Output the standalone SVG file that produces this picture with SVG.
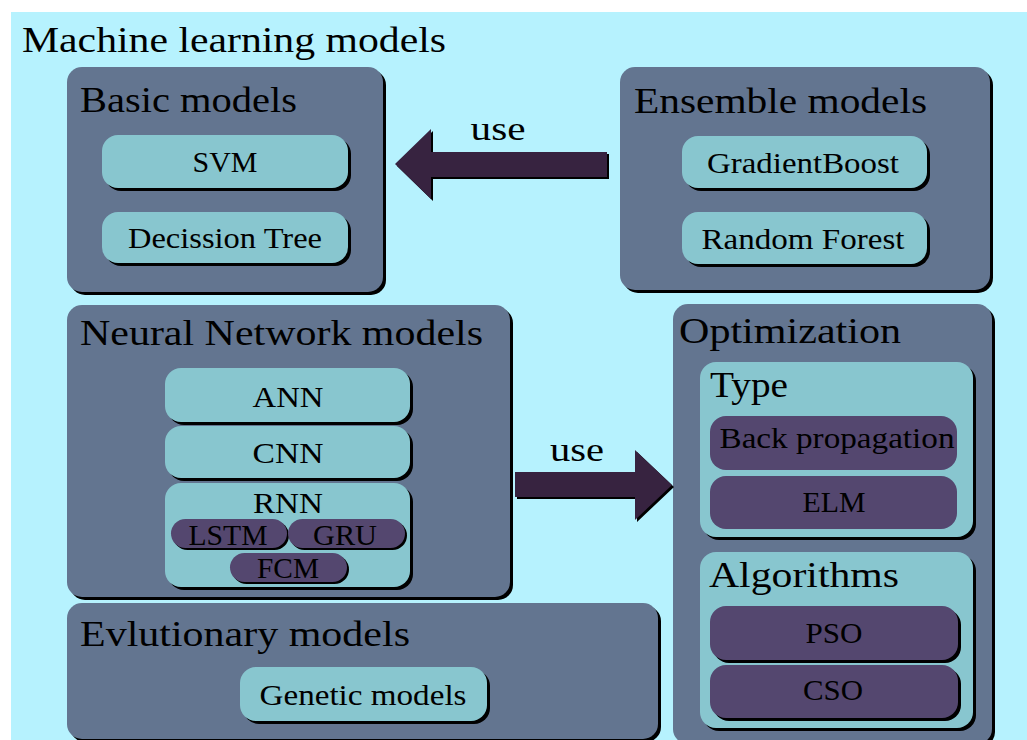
<svg xmlns="http://www.w3.org/2000/svg" width="1027" height="740" viewBox="0 0 1027 740">
<style>
text{font-family:"Liberation Serif","Times New Roman",serif;fill:#000}
.t{font-size:36px}
.l{font-size:29px;text-anchor:middle}
.u{font-size:34px;text-anchor:middle}
.sh{fill:#000}
.box{fill:#637590}
.teal{fill:#88c6cf}
.pur{fill:#54476f}
.arr{fill:#372340}
</style>
<rect x="11" y="12" width="1016" height="728" fill="#b6f2fe"/>
<text class="t" x="22" y="52" textLength="424" lengthAdjust="spacingAndGlyphs">Machine learning models</text>

<g id="basic">
<rect class="sh" x="70" y="70" width="316" height="225" rx="15"/>
<rect class="box" x="67" y="67" width="316" height="225" rx="15"/>
<text class="t" x="80" y="112" textLength="217" lengthAdjust="spacingAndGlyphs">Basic models</text>
<g id="svm"><rect class="sh" x="105" y="138" width="246" height="53" rx="16"/><rect class="teal" x="102" y="135" width="246" height="53" rx="16"/><text class="l" x="225" y="172" textLength="65" lengthAdjust="spacingAndGlyphs">SVM</text></g>
<g id="dtree"><rect class="sh" x="105" y="215" width="246" height="51" rx="16"/><rect class="teal" x="102" y="212" width="246" height="51" rx="16"/><text class="l" x="225" y="248" textLength="194" lengthAdjust="spacingAndGlyphs">Decission Tree</text></g>
</g>

<g id="ensemble">
<rect class="sh" x="623" y="70" width="370" height="223" rx="15"/>
<rect class="box" x="620" y="67" width="370" height="223" rx="15"/>
<text class="t" x="634" y="113" textLength="293" lengthAdjust="spacingAndGlyphs">Ensemble models</text>
<g id="gboost"><rect class="sh" x="685" y="139" width="245" height="52" rx="16"/><rect class="teal" x="682" y="136" width="245" height="52" rx="16"/><text class="l" x="803" y="173" textLength="192" lengthAdjust="spacingAndGlyphs">GradientBoost</text></g>
<g id="rforest"><rect class="sh" x="685" y="215" width="245" height="52" rx="16"/><rect class="teal" x="682" y="212" width="245" height="52" rx="16"/><text class="l" x="803" y="249" textLength="203" lengthAdjust="spacingAndGlyphs">Random Forest</text></g>
</g>

<g id="neural">
<rect class="sh" x="70" y="308" width="443" height="292" rx="15"/>
<rect class="box" x="67" y="305" width="443" height="292" rx="15"/>
<text class="t" x="80" y="345" textLength="403" lengthAdjust="spacingAndGlyphs">Neural Network models</text>
<g id="ann"><rect class="sh" x="168" y="371" width="245" height="54" rx="16"/><rect class="teal" x="165" y="368" width="245" height="54" rx="16"/><text class="l" x="288" y="407" textLength="71" lengthAdjust="spacingAndGlyphs">ANN</text></g>
<g id="cnn"><rect class="sh" x="168" y="429" width="245" height="52" rx="16"/><rect class="teal" x="165" y="426" width="245" height="52" rx="16"/><text class="l" x="288" y="463" textLength="71" lengthAdjust="spacingAndGlyphs">CNN</text></g>
<g id="rnn"><rect class="sh" x="168" y="486" width="245" height="104" rx="16"/><rect class="teal" x="165" y="483" width="245" height="104" rx="16"/><text class="l" x="288" y="513" textLength="70" lengthAdjust="spacingAndGlyphs">RNN</text></g>
<g id="lstm"><rect class="sh" x="173" y="521" width="116" height="29" rx="14.5"/><rect class="pur" x="171" y="519" width="116" height="29" rx="14.5"/><text class="l" x="228" y="545" textLength="79" lengthAdjust="spacingAndGlyphs">LSTM</text></g>
<g id="gru"><rect class="sh" x="290" y="521" width="117" height="29" rx="14.5"/><rect class="pur" x="288" y="519" width="117" height="29" rx="14.5"/><text class="l" x="345" y="545" textLength="64" lengthAdjust="spacingAndGlyphs">GRU</text></g>
<g id="fcm"><rect class="sh" x="232" y="555" width="117" height="29" rx="14.5"/><rect class="pur" x="230" y="553" width="117" height="29" rx="14.5"/><text class="l" x="288" y="578" textLength="62" lengthAdjust="spacingAndGlyphs">FCM</text></g>
</g>

<g id="evolution">
<rect class="sh" x="70" y="606" width="591" height="136" rx="15"/>
<rect class="box" x="67" y="603" width="591" height="136" rx="15"/>
<text class="t" x="80" y="646" textLength="330" lengthAdjust="spacingAndGlyphs">Evlutionary models</text>
<g id="genetic"><rect class="sh" x="243" y="670" width="247" height="54" rx="16"/><rect class="teal" x="240" y="667" width="247" height="54" rx="16"/><text class="l" x="363" y="705" textLength="207" lengthAdjust="spacingAndGlyphs">Genetic models</text></g>
</g>

<g id="optimization">
<rect class="sh" x="676" y="307" width="319" height="440" rx="15"/>
<rect class="box" x="673" y="304" width="319" height="440" rx="15"/>
<text class="t" x="679" y="343" textLength="222" lengthAdjust="spacingAndGlyphs">Optimization</text>
<g id="type"><rect class="sh" x="703" y="365" width="273" height="175" rx="16"/><rect class="teal" x="700" y="362" width="273" height="175" rx="16"/><text class="t" x="710" y="397" textLength="78" lengthAdjust="spacingAndGlyphs">Type</text></g>
<g id="backprop"><rect class="pur" x="710" y="416" width="247" height="54" rx="16"/><text class="l" x="837" y="448" textLength="235" lengthAdjust="spacingAndGlyphs">Back propagation</text></g>
<g id="elm"><rect class="pur" x="710" y="476" width="247" height="53" rx="16"/><text class="l" x="834" y="512" textLength="63" lengthAdjust="spacingAndGlyphs">ELM</text></g>
<g id="algorithms"><rect class="sh" x="703" y="555" width="273" height="176" rx="16"/><rect class="teal" x="700" y="552" width="273" height="176" rx="16"/><text class="t" x="709" y="587" textLength="190" lengthAdjust="spacingAndGlyphs">Algorithms</text></g>
<g id="pso"><rect class="sh" x="713" y="609" width="248" height="54" rx="16"/><rect class="pur" x="710" y="606" width="248" height="54" rx="16"/><text class="l" x="834" y="643" textLength="57" lengthAdjust="spacingAndGlyphs">PSO</text></g>
<g id="cso"><rect class="sh" x="713" y="668" width="248" height="53" rx="16"/><rect class="pur" x="710" y="665" width="248" height="53" rx="16"/><text class="l" x="833" y="700" textLength="60" lengthAdjust="spacingAndGlyphs">CSO</text></g>
</g>

<g id="connectors">
<polygon class="sh" points="609,154 433,154 433,131 397,166 433,201 433,179 609,179"/>
<polygon class="arr" points="607,152 431,152 431,129 395,164 431,199 431,177 607,177"/>
<text class="u" x="498" y="140" textLength="55" lengthAdjust="spacingAndGlyphs">use</text>
<polygon class="sh" points="517,474 637,474 637,452 674,487 637,522 637,499 517,499"/>
<polygon class="arr" points="515,472 635,472 635,450 672,485 635,520 635,497 515,497"/>
<text class="u" x="577" y="461" textLength="54" lengthAdjust="spacingAndGlyphs">use</text>
</g>
</svg>
